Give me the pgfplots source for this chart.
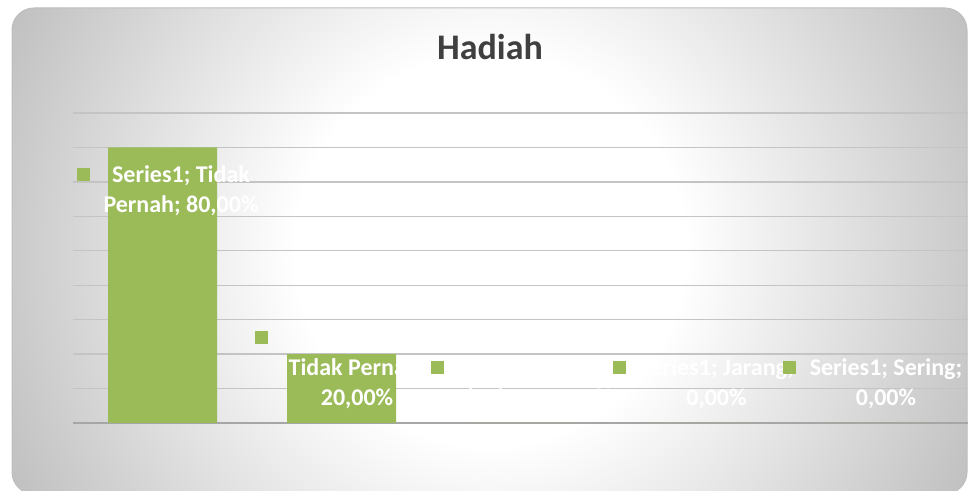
\documentclass[border=0pt]{standalone}
\usepackage{pgfplots}
\pgfplotsset{compat=1.18}
\usepackage{fontspec}
\setmainfont{Carlito}
\definecolor{barc}{HTML}{9BBB59}
\definecolor{gridc}{HTML}{C4C4C4}
\definecolor{basec}{HTML}{A6A6A6}
\definecolor{titlec}{HTML}{404040}
\definecolor{edgec}{HTML}{BBBBBB}
\definecolor{framec}{HTML}{BEBEBE}
\pgfdeclareradialshading{bgshade}{\pgfpoint{0bp}{0bp}}{color(0bp)=(white); color(8.7bp)=(white); color(25bp)=(edgec); color(50bp)=(edgec)}
\newcommand{\key}{\textcolor{barc}{\rule[1.5bp]{13bp}{13bp}}}
\tikzset{lbl/.style={anchor=base, inner sep=0pt, text=white, font=\fontsize{24bp}{30bp}\selectfont\bfseries}}
\begin{document}
\begin{tikzpicture}
\fill[white] (0,0) rectangle (968bp,491bp);
\useasboundingbox (0,0) rectangle (968bp,491bp);
\begin{scope}
\clip[rounded corners=22bp] (12bp,-3bp) rectangle (967bp,483bp);
\shade[shading=bgshade] (490bp,241bp) circle (560bp);
\end{scope}
\draw[framec, line width=1bp, rounded corners=22bp] (12bp,-3bp) rectangle (967bp,483bp);
\node[font=\fontsize{36bp}{40bp}\selectfont\bfseries, text=titlec, anchor=base] at (490bp,431bp) {Hadiah};
\begin{axis}[
  at={(73bp,68bp)}, anchor=south west,
  scale only axis, width=895bp, height=310bp,
  xmin=0.5, xmax=5.5, ymin=0, ymax=90,
  axis line style={draw=none},
  xtick=\empty,
  ytick={10,20,...,90}, yticklabels={},
  major tick length=0pt,
  ymajorgrids,
  grid style={gridc, line width=1.3bp},
  extra y ticks={0}, extra y tick labels={},
  extra y tick style={ymajorgrids=true, grid style={basec, line width=1.6bp}},
  ybar, bar width=109bp,
  clip=false,
]
\addplot[fill=barc, draw=none] coordinates {(1,80) (2,20) (3,0) (4,0) (5,0)};
\node[lbl, xshift=5bp, yshift=-35bp] at (axis cs:1,80) {\key\hspace{14bp}\begin{tabular}[t]{@{}c@{}}Series1; Tidak\\Pernah; 80,00\%\end{tabular}};
\node[lbl, xshift=2bp, yshift=9bp] at (axis cs:2,20) {\key\hspace{14bp}\begin{tabular}[t]{@{}c@{}}\makebox[150bp]{Series1;}\\Tidak Pernah;\\20,00\%\end{tabular}};
\node[lbl, xshift=6bp, yshift=47bp] at (axis cs:3,0) {\key\hspace{14bp}\begin{tabular}[t]{@{}c@{}}Series1; Kadang-\\kadang; 0,00\%\end{tabular}};
\node[lbl, xshift=4bp, yshift=47bp] at (axis cs:4,0) {\key\hspace{13bp}\begin{tabular}[t]{@{}c@{}}Series1; Jarang;\\0,00\%\end{tabular}};
\node[lbl, xshift=-6bp, yshift=47bp] at (axis cs:5,0) {\key\hspace{14bp}\begin{tabular}[t]{@{}c@{}}Series1; Sering;\\0,00\%\end{tabular}};
\end{axis}
\end{tikzpicture}
\end{document}
